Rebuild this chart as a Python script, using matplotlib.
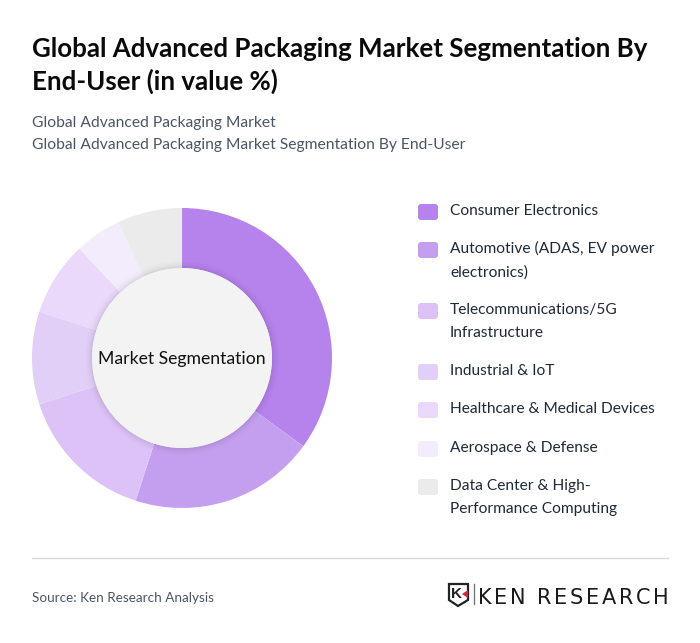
import matplotlib
matplotlib.use("Agg")
import matplotlib.pyplot as plt
from matplotlib.patches import Circle, FancyBboxPatch, Polygon

plt.rcParams['font.family'] = ['Lato', 'DejaVu Sans']

# Data
TITLE = "Global Advanced Packaging Market Segmentation By\nEnd-User (in value %)"
SUBTITLE = ["Global Advanced Packaging Market", "Global Advanced Packaging Market Segmentation By End-User"]
SEGMENTS = ["Consumer Electronics", "Automotive (ADAS, EV power\nelectronics)",
            "Telecommunications/5G\nInfrastructure", "Industrial & IoT",
            "Healthcare & Medical Devices", "Aerospace & Defense",
            "Data Center & High-\nPerformance Computing"]
SHARES = [35, 20, 15, 10, 8, 5, 7]
COLORS = ["#b682ec", "#c59fef", "#dcc2f7", "#e2cff7", "#ead9fa", "#f3ecfc", "#ebebeb"]
LOGO_TEXT = "KEN RESEARCH"

W, H = 700, 643
fig = plt.figure(figsize=(W / 100, H / 100), dpi=100, facecolor="white")

# Full figure axes in pixel coordinates for the text
bg = fig.add_axes([0, 0, 1, 1])
bg.set_xlim(0, W)
bg.set_ylim(H, 0)
bg.axis("off")

bg.text(32, 65.5, TITLE, fontsize=18.65, fontweight="bold", color="#0a0a0a",
        va="center", ha="left", linespacing=1.4)
bg.text(32, 123.5, SUBTITLE[0], fontsize=11.22, color="#4b5563", va="center")
bg.text(32, 144.5, SUBTITLE[1], fontsize=11.22, color="#4b5563", va="center")

# Donut
cx, cy, r = 182, 358, 150
pie_ax = fig.add_axes([(cx - r - 2) / W, 1 - (cy + r + 2) / H, (2 * r + 4) / W, (2 * r + 4) / H])
pie_ax.pie(SHARES, colors=COLORS, startangle=90, counterclock=False, radius=r / (r + 2),
           wedgeprops={"width": 60 / (r + 2), "linewidth": 0})
pie_ax.set_xlim(-1, 1)
pie_ax.set_ylim(-1, 1)

# Soft shadow round the centre disc
for extra, alpha in [(7, 0.012), (5, 0.018), (3, 0.025), (1.5, 0.03)]:
    pie_ax.add_patch(Circle((0, 0), (90 + extra) / (r + 2), color="black", alpha=alpha, lw=0))
pie_ax.add_patch(Circle((0, 0), 90 / (r + 2), color="#f3f3f3", lw=0))
pie_ax.text(0, -1 / (r + 2), "Market Segmentation", fontsize=12.7, color="#111111", ha="center", va="center")

# Legend
swatch_y = [212, 250, 311, 372, 410, 449, 487]
label_y = [210.7, 260.5, 321.5, 370.7, 408.7, 447.7, 497.5]
for name, color, sy, ly in zip(SEGMENTS, COLORS, swatch_y, label_y):
    bg.add_patch(FancyBboxPatch((420, sy - 6), 16, 12, boxstyle="round,pad=2,rounding_size=3",
                                fc=color, ec="none"))
    bg.text(450, ly, name, fontsize=11.2, color="#1f2937", va="center", ha="left", linespacing=1.78)

# Footer
bg.plot([32, 668], [558, 558], color="#d9d9dd", lw=1)
bg.text(32, 598, "Source: Ken Research Analysis", fontsize=9.7, color="#4b5563", va="center")

# Logo
bg.add_patch(Polygon([[449, 584], [468, 584], [468, 600], [458, 606], [449, 600]], closed=True,
                     fc="none", ec="#222222", lw=1.6))
bg.text(457, 594, "K", fontsize=11, fontweight="bold", color="#222222", ha="center", va="center",
        family="Liberation Sans")
bg.add_patch(Polygon([[468, 590], [468, 598], [462, 594]], closed=True, fc="#d8242f", ec="none"))
bg.plot([474, 474], [584, 604], color="#777777", lw=1)

# Logo lettering is widely tracked, so lay it out one letter at a time
renderer = fig.canvas.get_renderer()
x = 478
for ch in LOGO_TEXT:
    t = bg.text(x, 596, ch, fontsize=15, color="#1a1a1a", va="center_baseline", ha="left", family="DejaVu Sans")
    adv = 6 if ch == " " else t.get_window_extent(renderer).width
    x += adv + 2.7

fig.savefig("out.png", dpi=100)
